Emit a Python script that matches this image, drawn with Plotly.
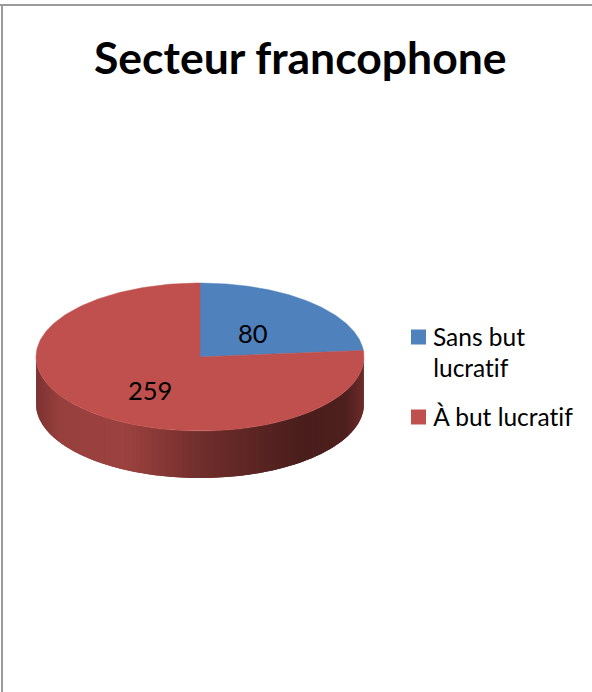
import numpy as np
import plotly.graph_objects as go

title = "Secteur francophone"
categories = ["Sans but lucratif", "À but lucratif"]
values = [80, 259]
colors = ["#4f81bd", "#c0504d"]
legend_lines = [["Sans but", "lucratif"], ["À but lucratif"]]

CX, CY, RX, RY, DEPTH = 200, 357, 164, 74, 47
side_stops = [(36, "#7c3331"), (60, "#97403e"), (125, "#9c4240"), (200, "#702e2c"),
              (300, "#4a1e1c"), (345, "#4d201e"), (364, "#6d2c2a")]


def hex_rgb(h):
    return np.array([int(h[i:i + 2], 16) for i in (1, 3, 5)], float)


def side_color(x):
    xs = [s[0] for s in side_stops]
    cs = np.array([hex_rgb(s[1]) for s in side_stops])
    r, g, b = (np.interp(x, xs, cs[:, i]) for i in range(3))
    return f"rgb({r:.0f},{g:.0f},{b:.0f})"


def ell(t, dy=0):
    return CX + RX * np.sin(t), CY - RY * np.cos(t) + dy


fig = go.Figure()

# Side wall of the disc, front half, in narrow overlapping strips for the shading
edges = np.linspace(np.pi / 2 - 0.03, 3 * np.pi / 2 + 0.03, 121)
for a, b in zip(edges[:-1], edges[1:]):
    t = np.linspace(a, min(b + 0.03, edges[-1]), 4)
    x1, y1 = ell(t)
    x2, y2 = ell(t[::-1], DEPTH)
    col = side_color(float(ell((a + b) / 2)[0]))
    fig.add_trace(go.Scatter(x=np.r_[x1, x2], y=np.r_[y1, y2], mode="lines", fill="toself",
                             fillcolor=col, line=dict(width=0),
                             hoverinfo="skip", showlegend=False))

# Top face, slices sized from the values
total = sum(values)
start = 0.0
for name, v, c in zip(categories, values, colors):
    sweep = 2 * np.pi * v / total
    t = np.linspace(start, start + sweep, 200)
    x, y = ell(t)
    fig.add_trace(go.Scatter(x=np.r_[CX, x, CX], y=np.r_[CY, y, CY], mode="lines", fill="toself",
                             fillcolor=c, line=dict(color=c, width=0.5), name=name,
                             text=f"{name}: {v}", hoverinfo="text", showlegend=False))
    start += sweep

annotations = [
    dict(x=300, y=56.5, text=f"<b>{title}</b>", font=dict(size=44.5)),
    dict(x=253, y=332.5, text=str(values[0]), font=dict(size=25.5)),
    dict(x=150, y=390, text=str(values[1]), font=dict(size=25.5)),
]
shapes = [
    dict(type="line", x0=0, x1=592, y0=5, y1=5, line=dict(color="#9a9a9a", width=2)),
    dict(type="line", x0=2, x1=2, y0=5, y1=692, line=dict(color="#9a9a9a", width=2)),
]
rows = [(legend_lines[0], 336), (legend_lines[1], 416)]
for (lines, y0), c in zip(rows, colors):
    shapes.append(dict(type="rect", x0=411, x1=426, y0=y0 - 7.5 + 1, y1=y0 + 7.5 + 1,
                       fillcolor=c, line=dict(width=0)))
    for i, line in enumerate(lines):
        annotations.append(dict(x=431, y=y0 + i * 31, text=line, xanchor="left", font=dict(size=24.5)))

for a in annotations:
    a.update(xref="x", yref="y", showarrow=False)
    a.setdefault("xanchor", "center")
    a["yanchor"] = "middle"

fig.update_layout(
    width=592, height=692, margin=dict(l=0, r=0, t=0, b=0), autosize=False,
    paper_bgcolor="white", plot_bgcolor="white", showlegend=False,
    font=dict(family="Lato", color="#000000"),
    xaxis=dict(range=[0, 592], visible=False, fixedrange=True),
    yaxis=dict(range=[692, 0], visible=False, fixedrange=True),
    annotations=annotations, shapes=shapes,
)
page_css = ("document.body.style.margin='0';document.body.style.overflow='hidden';"
            "document.head.insertAdjacentHTML('beforeend',"
            "'<style>svg text{font-variant-ligatures:none !important;"
            "font-feature-settings:\"liga\" 0,\"clig\" 0 !important}</style>');")
fig.write_html("out.html", config=dict(displayModeBar=False), post_script=page_css)
